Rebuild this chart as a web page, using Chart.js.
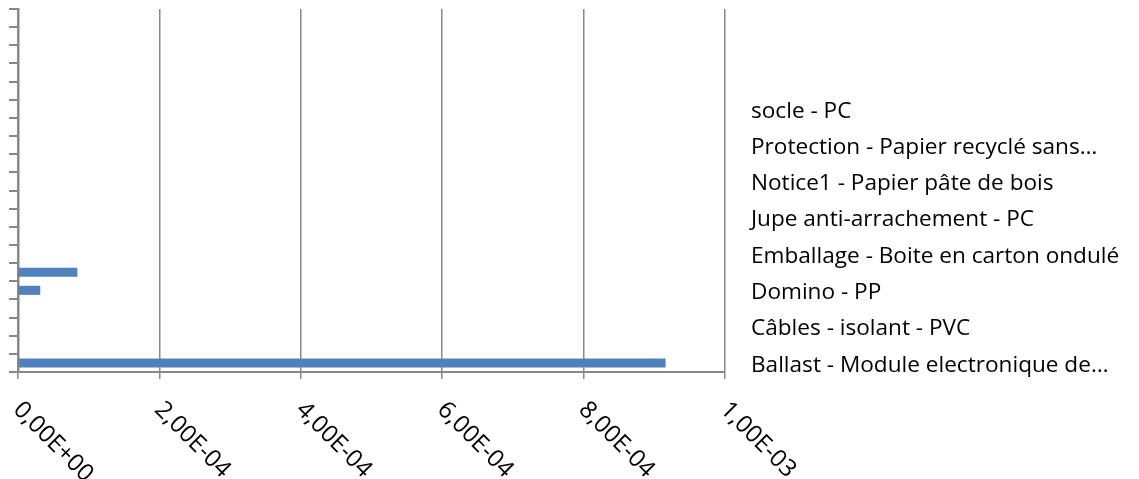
<!DOCTYPE html>
<html>
<head>
<meta charset="utf-8">
<script src="https://cdn.jsdelivr.net/npm/chart.js@4/dist/chart.umd.min.js"></script>
<style>
  html, body { margin: 0; padding: 0; background: #fff; }
  #wrap { width: 1139px; height: 479px; }
</style>
</head>
<body>
<div id="wrap"><canvas id="chart" width="1139" height="479"></canvas></div>
<script>
// categories, bottom to top (20 slots on the axis, only 8 named)
const categories = [
    'Ballast - Module electronique de…',
    'Câbles - isolant - PVC',
    'Domino - PP',
    'Emballage - Boite en carton ondulé',
    'Jupe anti-arrachement - PC',
    'Notice1 - Papier pâte de bois',
    'Protection - Papier recyclé sans…',
    'socle - PC',
    '', '', '', '', '', '', '', '', '', '', '', ''
];

// values
const values = [
    9.16e-4, 0, 0, 0, 3.15e-5, 8.4e-5, 0, 0,
    0, 0, 0, 0, 0, 0, 0, 0, 0, 0, 0, 0
];

const xMin = 0;
const xMax = 1e-3;
const xStep = 2e-4;

const axisGrey = '#888888';
const barBlue = '#4F81BD';

/**
 * Formats a number like Excel's French scientific format: 2,00E-04
 */
function sciLabel(v) {
    if (Math.abs(v) < 1e-12) return '0,00E+00';
    const parts = v.toExponential(2).split('e');
    const exp = parseInt(parts[1], 10);
    return parts[0].replace('.', ',') + 'E' + (exp < 0 ? '-' : '+') + String(Math.abs(exp)).padStart(2, '0');
}

// x tick labels slanting down to the right, as in the reference
const slantedTicks = {
    id: 'slantedTicks',
    afterDraw(chart) {
        const scale = chart.scales.x;
        const ctx = chart.ctx;
        ctx.save();
        ctx.font = '24px "Open Sans"';
        ctx.fillStyle = '#000';
        ctx.textAlign = 'left';
        ctx.textBaseline = 'middle';
        scale.ticks.forEach((tick, i) => {
            const px = scale.getPixelForTick(i);
            ctx.save();
            ctx.translate(px - 1, scale.top + 34);
            ctx.rotate(Math.PI / 4);
            ctx.fillText(sciLabel(tick.value), 0, 0);
            ctx.restore();
        });
        ctx.restore();
    }
};

// text-only legend to the right of the plot (named categories, top one first)
const sideLegend = {
    id: 'sideLegend',
    afterDraw(chart) {
        const ctx = chart.ctx;
        const names = categories.filter(name => name !== '').reverse();
        const x = chart.chartArea.right + 26;
        const firstBaseline = 117.5;
        const step = 36.3;
        ctx.save();
        ctx.font = '22.6px "Open Sans"';
        ctx.fillStyle = '#000';
        ctx.textAlign = 'left';
        ctx.textBaseline = 'alphabetic';
        names.forEach((name, i) => {
            ctx.fillText(name, x, firstBaseline + i * step);
        });
        ctx.restore();
    }
};

const ctx = document.getElementById('chart').getContext('2d');

new Chart(ctx, {
    type: 'bar',
    data: {
        labels: categories,
        datasets: [{
            data: values,
            backgroundColor: barBlue,
            borderWidth: 0,
            barPercentage: 0.5,
            categoryPercentage: 1.0
        }]
    },
    options: {
        indexAxis: 'y',
        responsive: false,
        animation: false,
        layout: {
            padding: { top: 9, right: 414, bottom: 0, left: 0 }
        },
        scales: {
            x: {
                min: xMin,
                max: xMax,
                ticks: { stepSize: xStep, display: false },
                grid: {
                    color: axisGrey,
                    lineWidth: 1.5,
                    tickLength: 7
                },
                border: { color: axisGrey, width: 2 },
                afterFit: s => { s.height = 107; }
            },
            y: {
                reverse: true,
                ticks: { display: false },
                grid: {
                    drawOnChartArea: false,
                    offset: true,
                    color: axisGrey,
                    lineWidth: 2,
                    tickLength: 9
                },
                border: { color: axisGrey, width: 2.5 },
                afterFit: s => { s.width = 18; }
            }
        },
        plugins: {
            tooltip: { enabled: false },
            legend: { display: false }
        }
    },
    plugins: [slantedTicks, sideLegend]
});
</script>
</body>
</html>
